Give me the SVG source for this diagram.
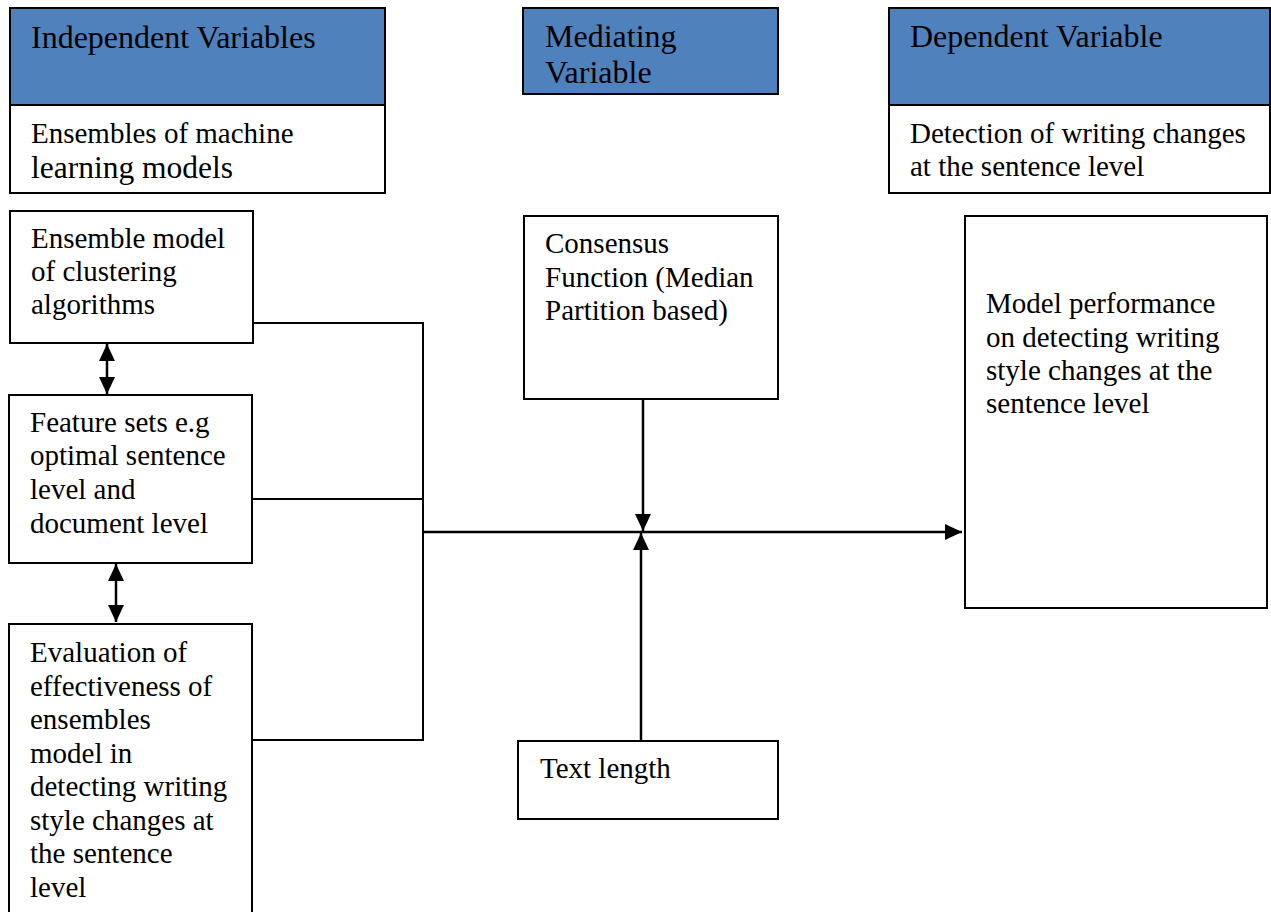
<svg xmlns="http://www.w3.org/2000/svg" width="1271" height="912" viewBox="0 0 1271 912">
  <style>
    .box { fill: #ffffff; stroke: #000000; stroke-width: 2; }
    .head { fill: #4F81BD; stroke: #000000; stroke-width: 2; }
    .txt { font-family: "Liberation Serif", "Times New Roman", serif; font-size: 29px; fill: #000000; }
    .htxt { font-family: "Liberation Serif", "Times New Roman", serif; font-size: 32px; fill: #000000; }
    .wire { fill: none; stroke: #000000; stroke-width: 2; }
    .arrow { fill: none; stroke: #000000; stroke-width: 2.5; }
  </style>
  <defs>
    <marker id="tip" viewBox="0 0 17 16" refX="17" refY="8" markerWidth="17" markerHeight="16" markerUnits="userSpaceOnUse" orient="auto-start-reverse">
      <path d="M0,0 L17,8 L0,16 Z" fill="#000000"/>
    </marker>
  </defs>
  <rect width="1271" height="912" fill="#ffffff"/>

  <!-- column headings -->
  <g id="independent">
    <rect class="head" x="10" y="8" width="375" height="97"/>
    <rect class="box" x="10" y="105" width="375" height="88"/>
    <text class="htxt" x="31" y="48">Independent Variables</text>
    <text class="txt" x="31" y="143">Ensembles of machine</text>
    <text class="txt" x="31" y="178" style="font-size:31.5px">learning models</text>
  </g>
  <g id="mediating">
    <rect class="head" x="523" y="8" width="255" height="86"/>
    <text class="htxt" x="545" y="47">Mediating</text>
    <text class="htxt" x="545" y="83">Variable</text>
  </g>
  <g id="dependent">
    <rect class="head" x="889" y="8" width="381" height="97"/>
    <rect class="box" x="889" y="105" width="381" height="88"/>
    <text class="htxt" x="910" y="47">Dependent Variable</text>
    <text class="txt" x="910" y="143">Detection of writing changes</text>
    <text class="txt" x="910" y="176">at the sentence level</text>
  </g>

  <!-- independent variable blocks -->
  <g id="ensemble-model">
    <rect class="box" x="10" y="211" width="243" height="132"/>
    <text class="txt" x="31" y="248">Ensemble model</text>
    <text class="txt" x="31" y="281">of clustering</text>
    <text class="txt" x="31" y="314">algorithms</text>
  </g>
  <g id="feature-sets">
    <rect class="box" x="9" y="395" width="243" height="168"/>
    <text class="txt" x="30" y="432">Feature sets e.g</text>
    <text class="txt" x="30" y="465">optimal sentence</text>
    <text class="txt" x="30" y="499">level and</text>
    <text class="txt" x="30" y="533">document level</text>
  </g>
  <g id="evaluation">
    <rect class="box" x="9" y="624" width="243" height="300"/>
    <text class="txt" x="30" y="662">Evaluation of</text>
    <text class="txt" x="30" y="696">effectiveness of</text>
    <text class="txt" x="30" y="729">ensembles</text>
    <text class="txt" x="30" y="763">model in</text>
    <text class="txt" x="30" y="796">detecting writing</text>
    <text class="txt" x="30" y="830">style changes at</text>
    <text class="txt" x="30" y="863">the sentence</text>
    <text class="txt" x="30" y="897">level</text>
  </g>

  <!-- mediating blocks -->
  <g id="consensus">
    <rect class="box" x="524" y="216" width="254" height="183"/>
    <text class="txt" x="545" y="253">Consensus</text>
    <text class="txt" x="545" y="287">Function (Median</text>
    <text class="txt" x="545" y="320">Partition based)</text>
  </g>
  <g id="text-length">
    <rect class="box" x="518" y="741" width="260" height="78"/>
    <text class="txt" x="540" y="778">Text length</text>
  </g>

  <!-- outcome block -->
  <g id="performance">
    <rect class="box" x="965" y="216" width="302" height="392"/>
    <text class="txt" x="986" y="313">Model performance</text>
    <text class="txt" x="986" y="347">on detecting writing</text>
    <text class="txt" x="986" y="380">style changes at the</text>
    <text class="txt" x="986" y="413">sentence level</text>
  </g>

  <!-- connectors -->
  <g id="connectors">
    <line class="arrow" x1="107" y1="344" x2="107" y2="394" marker-start="url(#tip)" marker-end="url(#tip)"/>
    <line class="arrow" x1="116" y1="564" x2="116" y2="622" marker-start="url(#tip)" marker-end="url(#tip)"/>
    <polyline class="wire" points="253,323 423,323 423,740 252,740"/>
    <line class="wire" x1="252" y1="499" x2="423" y2="499"/>
    <line class="arrow" x1="423" y1="532" x2="962" y2="532" marker-end="url(#tip)"/>
    <line class="arrow" x1="643" y1="399" x2="643" y2="531" marker-end="url(#tip)"/>
    <line class="arrow" x1="641" y1="741" x2="641" y2="533" marker-end="url(#tip)"/>
  </g>
</svg>
